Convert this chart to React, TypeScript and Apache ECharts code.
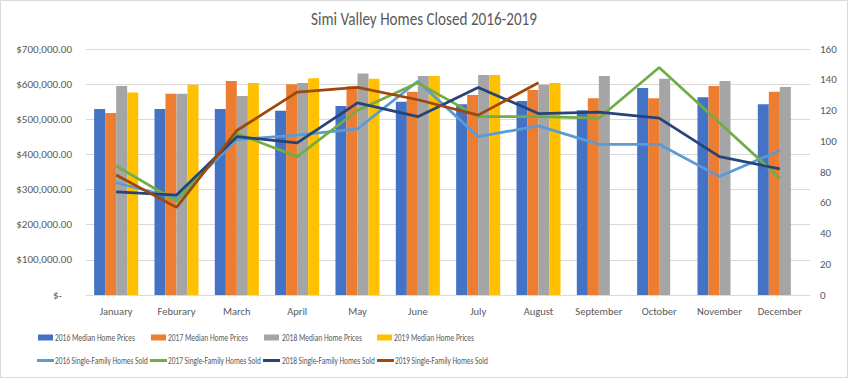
import React, { useEffect, useRef } from "react";
import * as echarts from "echarts";

const months = ["January", "Feburary", "March", "April", "May", "June", "July", "August", "September", "October", "November", "December"];

const price2016 = [529000, 529000, 529000, 524000, 538000, 550000, 543000, 552000, 526000, 589000, 563000, 543000];
const price2017 = [518000, 573000, 609000, 600000, 594000, 578000, 569000, 583000, 560000, 560000, 595000, 578000];
const price2018 = [595000, 573000, 566000, 603000, 630000, 623000, 626000, 598000, 623000, 615000, 609000, 592000];
const price2019 = [576000, 598000, 603000, 617000, 615000, 623000, 626000, 603000, null, null, null, null];

const sold2016 = [73, 63, 101, 104, 108, 139, 103, 110, 98, 98, 77, 94];
const sold2017 = [84, 61, 105, 90, 120, 138, 116, 116, 115, 148, 112, 76];
const sold2018 = [67, 65, 103, 99, 125, 116, 135, 118, 119, 115, 90, 82];
const sold2019 = [78, 57, 107, 132, 135, 127, 117, 138, null, null, null, null];

const titleText = "Simi Valley Homes Closed 2016-2019";
const barNames = ["2016 Median Home Prices", "2017 Median Home Prices", "2018 Median Home Prices", "2019 Median Home Prices"];
const lineNames = ["2016 Single-Family Homes Sold", "2017 Single-Family Homes Sold", "2018 Single-Family Homes Sold", "2019 Single-Family Homes Sold"];
const barColors = ["#4472C4", "#ED7D31", "#A5A5A5", "#FFC000"];
const lineColors = ["#5B9BD5", "#70AD47", "#264478", "#9E480E"];

const FONT = "Carlito, Lato, 'Open Sans', sans-serif";

function measure(text: string, size: number): number {
  const c = document.createElement("canvas").getContext("2d");
  if (!c) return text.length * size * 0.5;
  c.font = `${size}px ${FONT}`;
  return c.measureText(text).width;
}

export default function App() {
  const ref = useRef<HTMLDivElement>(null);
  useEffect(() => {
    document.body.style.margin = "0";
    const chart = echarts.init(ref.current!, null, { renderer: "svg" });
    const prices = [price2016, price2017, price2018, price2019];
    const solds = [sold2016, sold2017, sold2018, sold2019];

    const barSwatchX = [38, 151, 264, 377];
    const barTextX = [55, 168, 282, 394];
    const lineSwatchX = [37, 150, 263, 377];
    const lineTextX = [55, 168, 282, 395];
    const legendSize = 10;
    const rowY1 = 337.5;
    const rowY2 = 360.5;

    const textEl = (text: string, x: number, y: number, size: number, targetW: number, align: string) => ({
      type: "text",
      x,
      y,
      scaleX: Math.min(1, targetW / measure(text, size)),
      silent: true,
      style: {
        text,
        fill: "#595959",
        fontSize: size,
        fontFamily: FONT,
        align,
        verticalAlign: "middle",
      },
    });

    const graphics: any[] = [
      { type: "rect", shape: { x: 0.5, y: 0.5, width: 847, height: 377 }, style: { fill: "none", stroke: "#d9d9d9", lineWidth: 1 }, silent: true },
      textEl(titleText, 424, 19, 18, 226, "center"),
    ];
    barNames.forEach((n, i) => {
      graphics.push({ type: "rect", shape: { x: barSwatchX[i], y: rowY1 - 3, width: 15, height: 6 }, style: { fill: barColors[i] }, silent: true });
      graphics.push(textEl(n, barTextX[i], rowY1, legendSize, 80, "left"));
    });
    lineNames.forEach((n, i) => {
      graphics.push({ type: "line", shape: { x1: lineSwatchX[i], y1: rowY2, x2: lineSwatchX[i] + 17, y2: rowY2 }, style: { stroke: lineColors[i], lineWidth: 3 }, silent: true });
      graphics.push(textEl(n, lineTextX[i], rowY2, legendSize, 93, "left"));
    });

    const option: any = {
      animation: false,
      backgroundColor: "#ffffff",
      textStyle: { fontFamily: FONT },
      graphic: graphics,
      grid: { left: 86, right: 38, top: 49, bottom: 83, containLabel: false },
      xAxis: {
        type: "category",
        data: months,
        axisLine: { lineStyle: { color: "#d9d9d9" } },
        axisTick: { show: false },
        axisLabel: { color: "#595959", fontSize: 10.5, margin: 11, interval: 0, fontFamily: FONT },
      },
      yAxis: [
        {
          type: "value",
          min: 0,
          max: 700000,
          interval: 100000,
          axisLine: { show: false },
          axisTick: { show: false },
          splitLine: { lineStyle: { color: "#d9d9d9" } },
          axisLabel: {
            color: "#595959",
            fontSize: 11,
            margin: 14,
            fontFamily: FONT,
            formatter: (v: number) =>
              v === 0 ? "{z|$-}" : "$" + v.toLocaleString("en-US", { minimumFractionDigits: 2, maximumFractionDigits: 2 }),
            rich: { z: { color: "#595959", fontSize: 11, fontFamily: FONT, padding: [0, 10, 0, 0] } },
          },
        },
        {
          type: "value",
          min: 0,
          max: 160,
          interval: 20,
          axisLine: { show: false },
          axisTick: { show: false },
          splitLine: { show: false },
          axisLabel: { color: "#595959", fontSize: 11, margin: 10, fontFamily: FONT },
        },
      ],
      series: [
        ...prices.map((d, i) => ({
          name: barNames[i],
          type: "bar",
          data: d,
          yAxisIndex: 0,
          barGap: "0%",
          barCategoryGap: "27%",
          itemStyle: { color: barColors[i] },
        })),
        ...solds.map((d, i) => ({
          name: lineNames[i],
          type: "line",
          data: d,
          yAxisIndex: 1,
          symbol: "none",
          lineStyle: { color: lineColors[i], width: 2.75 },
          itemStyle: { color: lineColors[i] },
          z: 3,
        })),
      ],
    };
    chart.setOption(option);
    return () => chart.dispose();
  }, []);
  return <div ref={ref} style={{ width: 848, height: 378 }} />;
}
